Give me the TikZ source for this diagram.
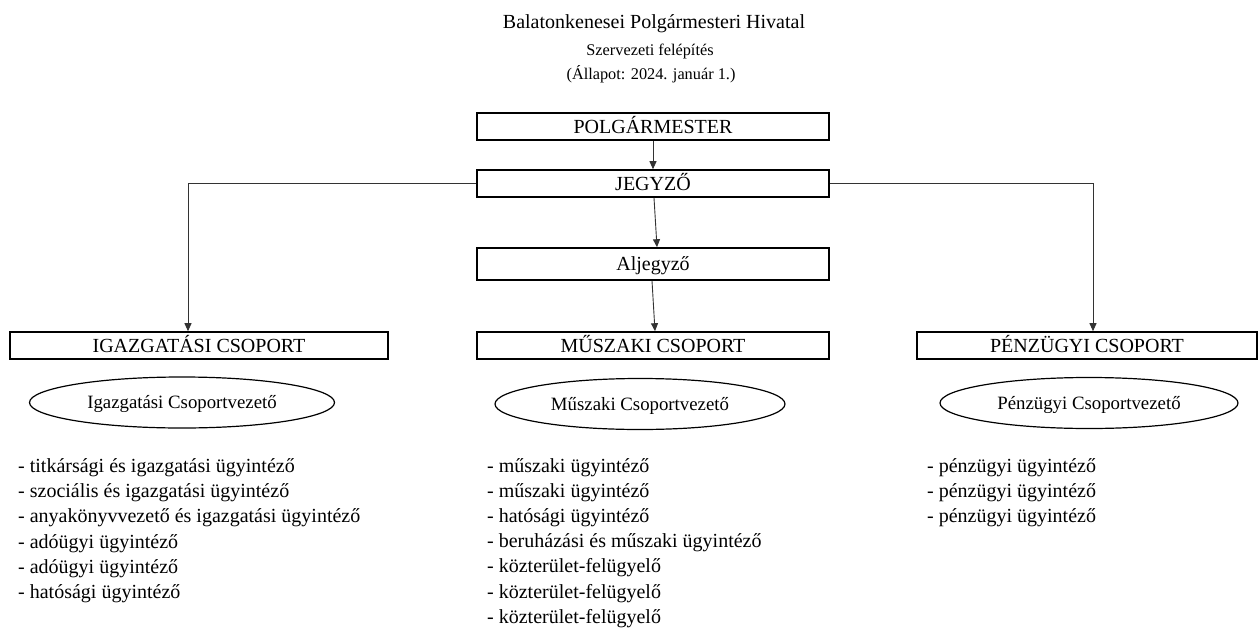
\documentclass[tikz,border=0pt]{standalone}
\usepackage{fontspec}
\setmainfont{Liberation Serif}
\usetikzlibrary{arrows.meta,positioning,shapes.geometric}
\tikzset{
  unit/.style   = {draw, rectangle, line width=1.6pt, minimum height=27pt, inner sep=0pt,
                   text height=13.2pt, text depth=0pt, font=\fontsize{20}{24}\selectfont},
  leader/.style = {draw, ellipse, line width=1.2pt, inner sep=0pt, minimum height=51pt,
                   text height=12.4pt, text depth=0pt, font=\fontsize{18.8}{22}\selectfont},
  item/.style   = {anchor=base west, inner sep=0pt, font=\fontsize{20}{24}\selectfont},
  head/.style   = {anchor=base, inner sep=0pt},
  link/.style   = {line width=0.9pt, draw=black!80},
  post/.style   = {link, -{Triangle[length=8pt,width=7pt]}}
}
\begin{document}
\begin{tikzpicture}[x=1pt,y=-1pt]
  \useasboundingbox (0,0) rectangle (1259,632);
  % title
  \node[head, font=\fontsize{20}{24}\selectfont] (cim) at (654,28) {Balatonkenesei Polgármesteri Hivatal};
  \node[head, font=\fontsize{16.3}{20}\selectfont] (alcim) at (650,55) {Szervezeti felépítés};
  \node[head, font=\fontsize{16.3}{20}\selectfont] (datum) at (651,79) {(Állapot: 2024. január 1.)};
  % leadership
  \node[unit, minimum width=352pt] (polg) at (653,126.5) {POLGÁRMESTER};
  \node[unit, minimum width=352pt] (jegyzo) at (653,183.5) {JEGYZŐ};
  \node[unit, minimum width=352pt, minimum height=32pt] (aljegyzo) at (653,264) {Aljegyző};
  % groups
  \node[unit, minimum width=378pt] (igcs) at (199,345.5) {IGAZGATÁSI CSOPORT};
  \node[unit, minimum width=352pt] (mucs) at (653,345.5) {MŰSZAKI CSOPORT};
  \node[unit, minimum width=340pt] (pecs) at (1087,345.5) {PÉNZÜGYI CSOPORT};
  \node[leader, minimum width=305pt] (igvez) at (182,402.5) {Igazgatási Csoportvezető};
  \node[leader, minimum width=290pt] (muvez) at (640,404) {Műszaki Csoportvezető};
  \node[leader, minimum width=298pt] (pevez) at (1089,403) {Pénzügyi Csoportvezető};
  % connectors
  \draw[post] (polg) -- (jegyzo);
  \draw[post] ([xshift=1pt]jegyzo.south) -- ([xshift=4pt]aljegyzo.north);
  \draw[post] ([xshift=-1pt]aljegyzo.south) -- ([xshift=2pt]mucs.north);
  \draw[post] (jegyzo.west) -| ([xshift=-11pt]igcs.north);
  \draw[post] (jegyzo.east) -| ([xshift=6pt]pecs.north);
  % staff
  \foreach \t [count=\i] in {titkársági és igazgatási ügyintéző, szociális és igazgatási ügyintéző,
      anyakönyvvezető és igazgatási ügyintéző, adóügyi ügyintéző, adóügyi ügyintéző, hatósági ügyintéző}
    \node[item] (ig\i) at (18,472.3+25.3*\i-25.3) {- \t};
  \foreach \t [count=\i] in {műszaki ügyintéző, műszaki ügyintéző, hatósági ügyintéző,
      beruházási és műszaki ügyintéző, közterület-felügyelő, közterület-felügyelő, közterület-felügyelő}
    \node[item] (mu\i) at (487,472+25.2*\i-25.2) {- \t};
  \foreach \t [count=\i] in {pénzügyi ügyintéző, pénzügyi ügyintéző, pénzügyi ügyintéző}
    \node[item] (pe\i) at (927,472+25.3*\i-25.3) {- \t};
\end{tikzpicture}
\end{document}
